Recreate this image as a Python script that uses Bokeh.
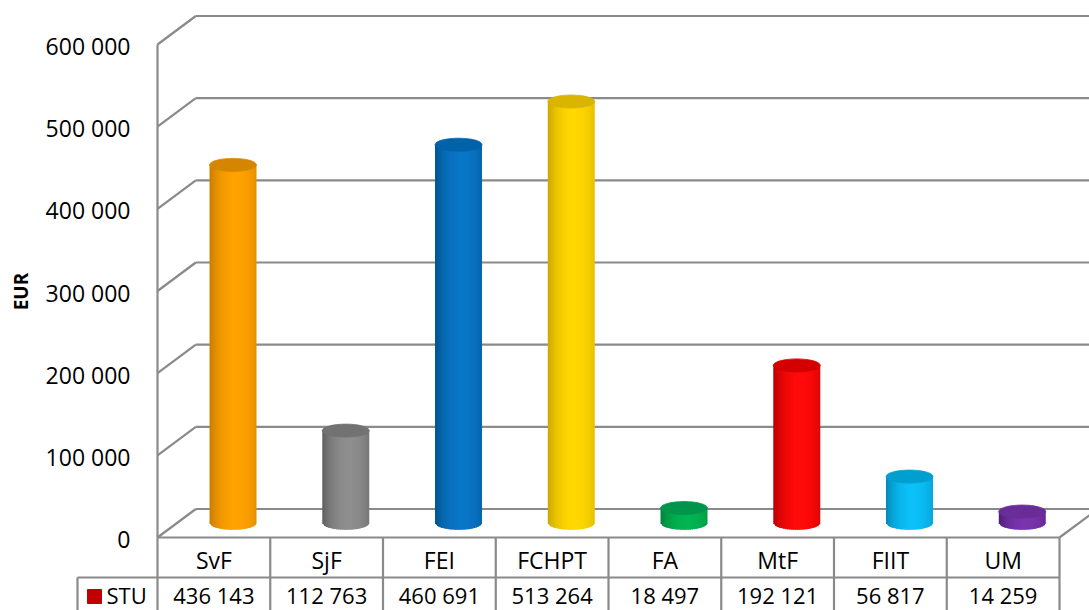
import numpy as np
from bokeh.plotting import figure
from bokeh.models import Range1d
from bokeh.embed import file_html
from bokeh.resources import INLINE
from bokeh.core.properties import value

# ---------------- data ----------------
categories = ["SvF", "SjF", "FEI", "FCHPT", "FA", "MtF", "FIIT", "UM"]
values = [436143, 112763, 460691, 513264, 18497, 192121, 56817, 14259]
series_name = "STU"
y_ticks = [0, 100000, 200000, 300000, 400000, 500000, 600000]
y_label = "EUR"

body_colors = ["#FFA200", "#8E8E8E", "#0A76C6", "#FFD800", "#00B552", "#FF0A0A", "#0CC0F8", "#7A34AE"]
edge_colors = ["#C77A00", "#5C5C5C", "#00508E", "#C9A400", "#007F39", "#B40000", "#0086B4", "#4E1D74"]
top_colors = ["#D58600", "#727272", "#0062A8", "#D9B500", "#00954A", "#D40000", "#009FD0", "#6A2D98"]
legend_color = "#C00000"

# ---------------- geometry (pixel scale) ----------------
W, H = 1089, 610
PX_X = 112.75            # px per category column
PX_Y = 493.0 / 600000.0  # px per EUR
X0_PX = 157.0            # px of category 0 left edge
Y0_PX = H - 537.0        # px (from bottom) of value 0

def ux(px):
    return px / PX_X

def uy(px):
    return px / PX_Y

x_start = -X0_PX / PX_X
x_end = x_start + W / PX_X
y_start = -Y0_PX / PX_Y
y_end = y_start + H / PX_Y

DX, DY = ux(38.3), uy(28.5)
n = len(categories)
vmax = y_ticks[-1]

p = figure(width=W, height=H, output_backend="svg", toolbar_location=None,
           x_range=Range1d(x_start, x_end), y_range=Range1d(y_start, y_end),
           x_axis_type=None, y_axis_type=None, min_border=0)
p.outline_line_color = None
p.background_fill_color = "white"
p.border_fill_color = "white"

GRID = "#8A8A8A"
LW = 2.2

# back wall gridlines
p.segment(x0=[DX] * len(y_ticks), y0=[v + DY for v in y_ticks],
          x1=[x_end] * len(y_ticks), y1=[v + DY for v in y_ticks],
          line_color=GRID, line_width=LW)
# left wall diagonals
p.segment(x0=[0] * len(y_ticks), y0=y_ticks,
          x1=[DX] * len(y_ticks), y1=[v + DY for v in y_ticks],
          line_color=GRID, line_width=LW)
# front vertical, floor right diagonal
p.segment(x0=[0, n], y0=[0, 0], x1=[0, n + DX], y1=[vmax, DY],
          line_color=GRID, line_width=LW)

# ---------------- table ----------------
row_h = uy(40)
leg_x = ux(77 - 157)
p.segment(x0=[0, leg_x], y0=[0, -row_h], x1=[n, n], y1=[0, -row_h],
          line_color=GRID, line_width=LW)
vx = list(range(n + 1))
p.segment(x0=vx, y0=[0] * len(vx), x1=vx, y1=[y_start] * len(vx),
          line_color=GRID, line_width=LW)
p.segment(x0=[leg_x], y0=[-row_h], x1=[leg_x], y1=[y_start],
          line_color=GRID, line_width=LW)

font = value("Open Sans")
FS = "23px"
centers = [i + 0.5 for i in range(n)]
p.text(x=centers, y=[-row_h / 2 - uy(2)] * n, text=categories,
       text_font=font, text_font_size=FS, text_align="center",
       text_baseline="middle", text_color="black")
row2_y = -1.5 * row_h + uy(3)
fmt = [f"{v:,}".replace(",", " ") for v in values]
p.text(x=centers, y=[row2_y] * n, text=fmt,
       text_font=font, text_font_size="22px", text_align="center",
       text_baseline="middle", text_color="black")
p.scatter(x=[ux(94 - 157)], y=[-1.5 * row_h + uy(1)], marker="square", size=14,
          fill_color=legend_color, line_color=legend_color)
p.text(x=[ux(106 - 157)], y=[row2_y], text=[series_name],
       text_font=font, text_font_size="22px", text_align="left",
       text_baseline="middle", text_color="black")

# y tick labels
tick_txt = [f"{v:,}".replace(",", " ") for v in y_ticks]
p.text(x=[ux(130 - 157)] * len(y_ticks), y=[t - uy(1.5) for t in y_ticks], text=tick_txt,
       text_font=font, text_font_size=FS, text_align="right",
       text_baseline="middle", text_color="black")
p.text(x=[ux(20 - 157)], y=[uy(537 - 291)], text=[y_label], angle=np.pi / 2,
       text_font=font, text_font_size="19px", text_font_style="bold",
       text_align="center", text_baseline="middle", text_color="black")

# ---------------- cylinders ----------------
def hex2rgb(h):
    h = h.lstrip("#")
    return np.array([int(h[i:i + 2], 16) for i in (0, 2, 4)], dtype=float)

def rgb2hex(c):
    c = np.clip(np.round(c), 0, 255).astype(int)
    return "#%02x%02x%02x" % tuple(c)

N = 24
r = ux(23.5)
b = uy(6.5)
uedges = np.linspace(-1, 1, N + 1)
ov = 2.0 / N * 0.6  # overlap to hide seams
xs_all, ys_all, cols = [], [], []
for i, v in enumerate(values):
    cx = i + 0.5 + DX / 2
    base = DY / 2
    top = v + DY / 2
    cb, ce = hex2rgb(body_colors[i]), hex2rgb(edge_colors[i])
    for k in range(N):
        u0 = uedges[k]
        u1 = min(1.0, uedges[k + 1] + (ov if k < N - 1 else 0))
        um = 0.5 * (uedges[k] + uedges[k + 1])
        t = max(0.0, 1 - ((um - 0.15) / 1.15) ** 2) ** 0.8
        col = rgb2hex(ce + (cb - ce) * t)
        xs_all.append([cx + r * u0, cx + r * u1, cx + r * u1, cx + r * u0])
        ys_all.append([top, top,
                       base - b * np.sqrt(max(0, 1 - u1 ** 2)),
                       base - b * np.sqrt(max(0, 1 - u0 ** 2))])
        cols.append(col)
p.patches(xs=xs_all, ys=ys_all, fill_color=cols, line_color=None)

tops = [v + DY / 2 for v in values]
cxs = [i + 0.5 + DX / 2 for i in range(n)]
p.ellipse(x=cxs, y=tops, width=2 * r, height=2 * b, fill_color=top_colors,
          line_color=top_colors, line_width=0.8)

open("out.html", "w").write(file_html(p, INLINE))
